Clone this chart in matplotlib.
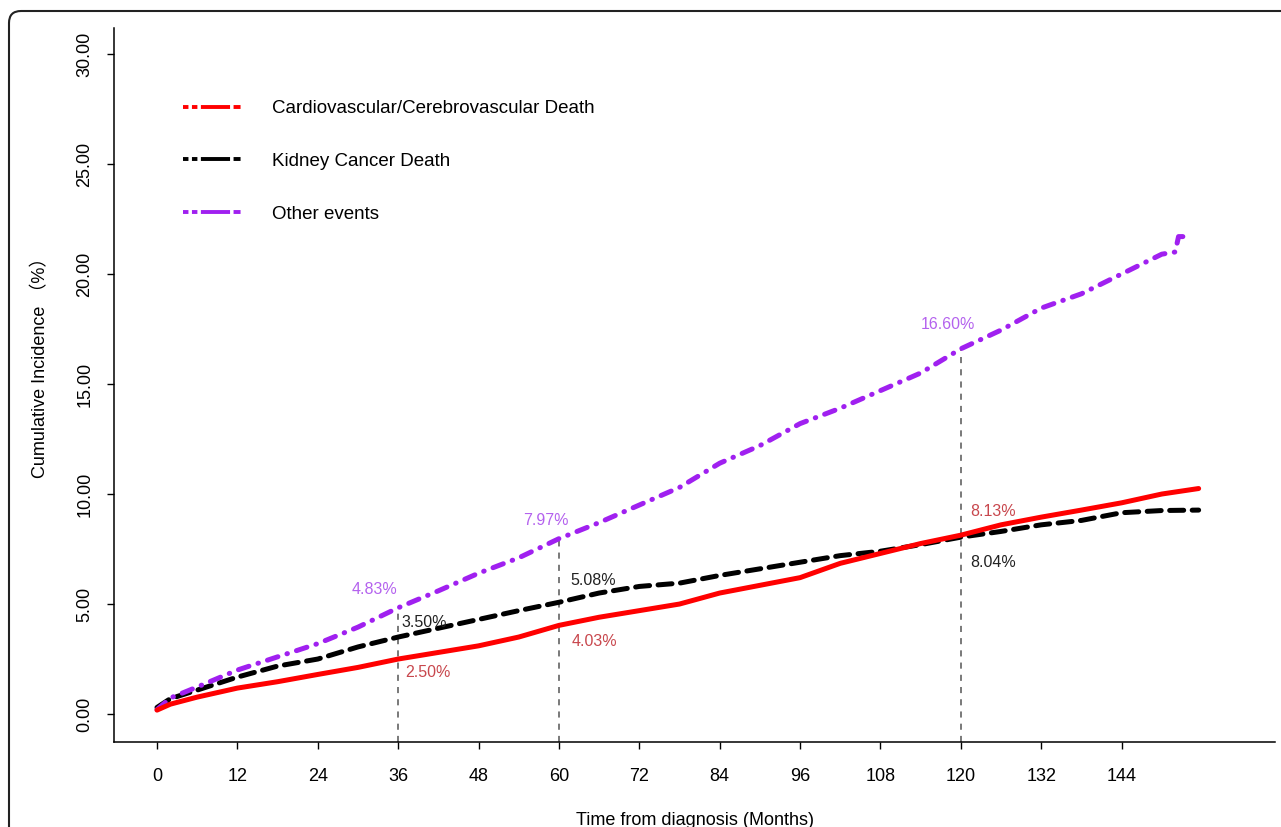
"""
Cumulative incidence of competing events after kidney cancer diagnosis.
"""

import matplotlib

matplotlib.use("Agg")
import matplotlib.pyplot as plt
from matplotlib.lines import Line2D
from matplotlib.patches import FancyBboxPatch
from matplotlib.transforms import IdentityTransform

plt.rcParams["font.family"] = ["Liberation Sans", "Noto Sans CJK SC", "DejaVu Sans"]

# Data (months, percent)
cv_months = [0, 2, 6, 12, 18, 24, 30, 36, 42, 48, 54, 60, 66, 72, 78, 84, 90,
             96, 102, 108, 114, 120, 126, 132, 138, 144, 150, 155.5]
cv_values = [0.18, 0.45, 0.77, 1.18, 1.47, 1.8, 2.12, 2.50, 2.8, 3.1, 3.5, 4.03,
             4.4, 4.7, 5.0, 5.5, 5.85, 6.2, 6.85, 7.3, 7.75, 8.13, 8.6, 8.95,
             9.27, 9.6, 10.0, 10.25]

kc_months = [0, 2, 6, 12, 18, 24, 30, 36, 42, 48, 54, 60, 66, 72, 78, 84, 90,
             96, 102, 108, 114, 120, 126, 132, 138, 144, 150, 155.5]
kc_values = [0.3, 0.7, 1.09, 1.68, 2.18, 2.5, 3.05, 3.50, 3.9, 4.3, 4.7, 5.08,
             5.5, 5.8, 5.95, 6.3, 6.6, 6.9, 7.2, 7.4, 7.7, 8.04, 8.3, 8.6, 8.8,
             9.15, 9.25, 9.27]

oe_months = [0, 2, 6, 12, 18, 24, 30, 36, 42, 48, 54, 60, 66, 72, 78, 84, 90,
             96, 102, 108, 114, 120, 126, 132, 138, 144, 150, 152, 152.5, 154.5]
oe_values = [0.2, 0.73, 1.23, 2.0, 2.6, 3.2, 3.95, 4.83, 5.6, 6.4, 7.1, 7.97,
             8.7, 9.5, 10.3, 11.4, 12.2, 13.2, 13.9, 14.7, 15.5, 16.60, 17.45,
             18.45, 19.1, 20.0, 20.9, 21.0, 21.7, 21.7]

# Highlighted time points
mark_months = [36, 60, 120]
cv_marks = [2.50, 4.03, 8.13]
kc_marks = [3.50, 5.08, 8.04]
oe_marks = [4.83, 7.97, 16.60]

labels = ["Cardiovascular/Cerebrovascular Death", "Kidney Cancer Death", "Other events"]
x_ticks = [0, 12, 24, 36, 48, 60, 72, 84, 96, 108, 120, 132, 144]
y_ticks = [0, 5, 10, 15, 20, 25, 30]

red = "#ff0000"
black = "#000000"
purple = "#a020f0"

fig = plt.figure(figsize=(12.81, 8.27), dpi=100)
ax = fig.add_axes([114 / 1281, 1 - 742 / 827, 1161 / 1281, 714 / 827])

# Outer rounded panel border (runs off the right and bottom edges)
border = FancyBboxPatch((9, -60), 1400, 827 - 11 + 60,
                        boxstyle="round,pad=0,rounding_size=12",
                        transform=IdentityTransform(), fill=False,
                        edgecolor="#222222", linewidth=1.5, zorder=0)
fig.patches.append(border)

ymin, ymax = -1.27, 31.18
ax.set_xlim(-6.42, 166.9)
ax.set_ylim(ymin, ymax)

# Reference lines at the highlighted times
ax.vlines(mark_months, ymin, oe_marks, colors="#555555", linewidth=1.1,
          linestyles=(0, (4, 4)), zorder=1)

ax.plot(cv_months, cv_values, color=red, linewidth=3.6, solid_capstyle="round", zorder=3)
ax.plot(kc_months, kc_values, color=black, linewidth=3.6, dashes=(2.8, 1.7),
        dash_capstyle="round", zorder=2)
ax.plot(oe_months, oe_values, color=purple, linewidth=3.6, dashes=(2.2, 1.9, 0.1, 1.9),
        dash_capstyle="round", zorder=2)

# Percent annotations
ann_font = dict(fontsize=11.5, family=["Liberation Sans Narrow", "Liberation Sans"])
oe_offsets = [(-24, 18), (-13, 18), (-13, 24)]
kc_offsets = [(3, 15), (11, 22), (9, -25)]
cv_offsets = [(7, -13), (13, -16), (9, 24)]
for m, v, off in zip(mark_months, oe_marks, oe_offsets):
    ax.annotate(f"{v:.2f}%", (m, v), xytext=off, textcoords="offset pixels",
                ha="center", va="center", color="#b462ee", **ann_font)
for m, v, off in zip(mark_months, kc_marks, kc_offsets):
    ax.annotate(f"{v:.2f}%", (m, v), xytext=off, textcoords="offset pixels",
                ha="left", va="center", color="#222222", **ann_font)
for m, v, off in zip(mark_months, cv_marks, cv_offsets):
    ax.annotate(f"{v:.2f}%", (m, v), xytext=off, textcoords="offset pixels",
                ha="left", va="center", color="#c8474d", **ann_font)

# Axes styling
for side in ["top", "right"]:
    ax.spines[side].set_visible(False)
for side in ["left", "bottom"]:
    ax.spines[side].set_linewidth(1.1)

ax.set_xticks(x_ticks)
ax.set_xticklabels([str(t) for t in x_ticks])
ax.set_yticks(y_ticks)
ax.set_yticklabels([f"{t:.2f}" for t in y_ticks])
ax.tick_params(axis="x", length=5, width=1, labelsize=13, pad=14)
ax.tick_params(axis="y", length=5, width=1, labelsize=13, pad=10)
for lab in ax.get_yticklabels():
    lab.set_rotation(90)
    lab.set_va("center")

ax.set_xlabel("Time from diagnosis (Months)", fontsize=13)
ax.xaxis.set_label_coords(0.5, -0.098)
ax.set_ylabel("Cumulative Incidence （%）", fontsize=13)
ax.yaxis.set_label_coords(-0.056, 0.53)

# Legend
legend_dashes = (1.4, 0.9, 1.4, 0.9, 7.5, 0.9, 1.8, 0.9)
handles = [
    Line2D([0], [0], color=c, linewidth=2.8, dashes=legend_dashes, dash_capstyle="butt")
    for c in [red, black, purple]
]
fig.legend(handles, labels, loc="upper left", bbox_to_anchor=(183 / 1281, 1 - 100 / 827),
           frameon=False, fontsize=13.5, handlelength=3.2, handletextpad=1.55,
           labelspacing=1.9, borderpad=0, borderaxespad=0)

plt.savefig("out.png", dpi=100)
